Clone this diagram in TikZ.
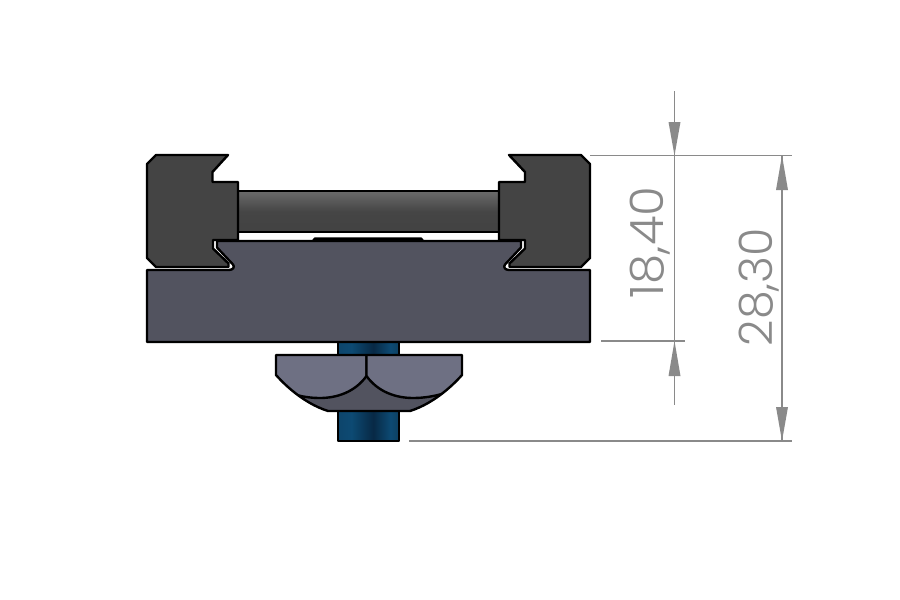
\documentclass[tikz,border=0pt]{standalone}
\usepackage{fontspec}
\setmainfont{Poppins Light}
\usetikzlibrary{calc}
\definecolor{blockc}{HTML}{444444}
\definecolor{basec}{HTML}{52535F}
\definecolor{nuttop}{HTML}{6E7083}
\definecolor{dimc}{HTML}{8A8A8A}
\pgfdeclarehorizontalshading{boltshade}{100bp}{
  rgb(0bp)=(0.05,0.27,0.42);
  rgb(25bp)=(0.05,0.27,0.42);
  rgb(36bp)=(0.05,0.29,0.45);
  rgb(54bp)=(0.03,0.16,0.27);
  rgb(68bp)=(0.05,0.29,0.45);
  rgb(75bp)=(0.05,0.25,0.38);
  rgb(100bp)=(0.05,0.25,0.38)}
\pgfdeclareverticalshading{barshade}{100bp}{
  rgb(0bp)=(0.26,0.26,0.26);
  rgb(25bp)=(0.26,0.26,0.26);
  rgb(50bp)=(0.27,0.27,0.27);
  rgb(75bp)=(0.42,0.42,0.42);
  rgb(100bp)=(0.42,0.42,0.42)}
\tikzset{
  part/.style={draw=black,line width=2.4pt,line join=round},
  dimline/.style={draw=dimc,line width=1.7pt},
  dimhead/.style={fill=dimc,draw=none},
  dimtext/.style={text=dimc,font=\fontsize{46}{46}\selectfont,rotate=90,inner sep=0pt}
}
\begin{document}
\begin{tikzpicture}[x=1pt,y=-1pt]
\useasboundingbox (0,0) rectangle (900,600);
% bolt
\path[part,shading=boltshade] (338,335) rectangle (399,441);
% bar
\path[part,shading=barshade] (232,191) rectangle (505,232);
% base
\path[part,fill=basec] (313,241) -- (315,238.5) -- (421,238.5) -- (423,241) -- cycle;
\path[part,fill=basec] (147,270) -- (229,270) .. controls (233,270) and (235,267) .. (233,264.5)
  -- (217,247.5) -- (217,241) -- (521,241) -- (521,247.5) -- (505,264.5)
  .. controls (503,267) and (505,270) .. (509,270) -- (590,270) -- (590,342) -- (147,342) -- cycle;
% left block
\path[part,fill=blockc] (156,155) -- (228,155) -- (212.5,172) -- (212.5,182) -- (238,182) -- (238,240)
  -- (213,240) -- (213,248.5) -- (228.5,263.5) -- (228.5,267)
  -- (156,267) -- (147,258) -- (147,164) -- cycle;
% right block
\path[part,fill=blockc] (581,155) -- (509,155) -- (525,172) -- (525,182) -- (499,182) -- (499,240)
  -- (525,240) -- (525,248.5) -- (509.5,263.5) -- (509.5,267)
  -- (581,267) -- (590,258) -- (590,164) -- cycle;
% nut
\path[fill=basec] (276,355) -- (462,355) -- (462,375) .. controls (454,384) and (435,403) .. (410,411)
  -- (328,411) .. controls (303,403) and (284,384) .. (276,375) -- cycle;
\begin{scope}
\clip (276,355) -- (462,355) -- (462,375) .. controls (454,384) and (435,403) .. (410,411)
  -- (328,411) .. controls (303,403) and (284,384) .. (276,375) -- cycle;
\path[part,fill=nuttop] (260,350) -- (366.5,350) -- (366.5,376)
  .. controls (355,392) and (337,398) .. (320,398)
  .. controls (300,398) and (280,392) .. (260,375) -- cycle;
\path[part,fill=nuttop] (478,350) -- (366.5,350) -- (366.5,376)
  .. controls (378,392) and (396,398) .. (413,398)
  .. controls (433,398) and (458,392) .. (478,375) -- cycle;
\end{scope}
\draw[part] (276,355) -- (462,355) -- (462,375) .. controls (454,384) and (435,403) .. (410,411)
  -- (328,411) .. controls (303,403) and (284,384) .. (276,375) -- cycle;
% dimension references
\coordinate (refA) at (590,155.5);
\coordinate (refAe) at (792,155.5);
\coordinate (refB) at (601,341);
\coordinate (refBe) at (685,341);
\coordinate (refC) at (409,441);
\coordinate (refCe) at (792,441);
\coordinate (dimAt) at (674.5,91);
\coordinate (dimAb) at (674.5,405);
\coordinate (dimBt) at (782,155.5);
\coordinate (dimBb) at (782,441);
\draw[dimline] (refA) -- (refAe);
\draw[dimline] (refB) -- (refBe);
\draw[dimline] (refC) -- (refCe);
\draw[dimline] (dimAt) -- (dimAb);
\draw[dimline] (dimBt) -- (dimBb);
% arrow heads
\fill[dimhead] (674.5,155.5) -- (668.5,122) -- (680.5,122) -- cycle;
\fill[dimhead] (674.5,341) -- (668.5,376) -- (680.5,376) -- cycle;
\fill[dimhead] (782,155.5) -- (776,190) -- (788,190) -- cycle;
\fill[dimhead] (782,441) -- (776,407) -- (788,407) -- cycle;
% labels
\node[dimtext,xscale=1.05] (labA) at (650,242.5) {18,40};
\node[dimtext] (labB) at (759,287) {28,30};
\end{tikzpicture}
\end{document}
